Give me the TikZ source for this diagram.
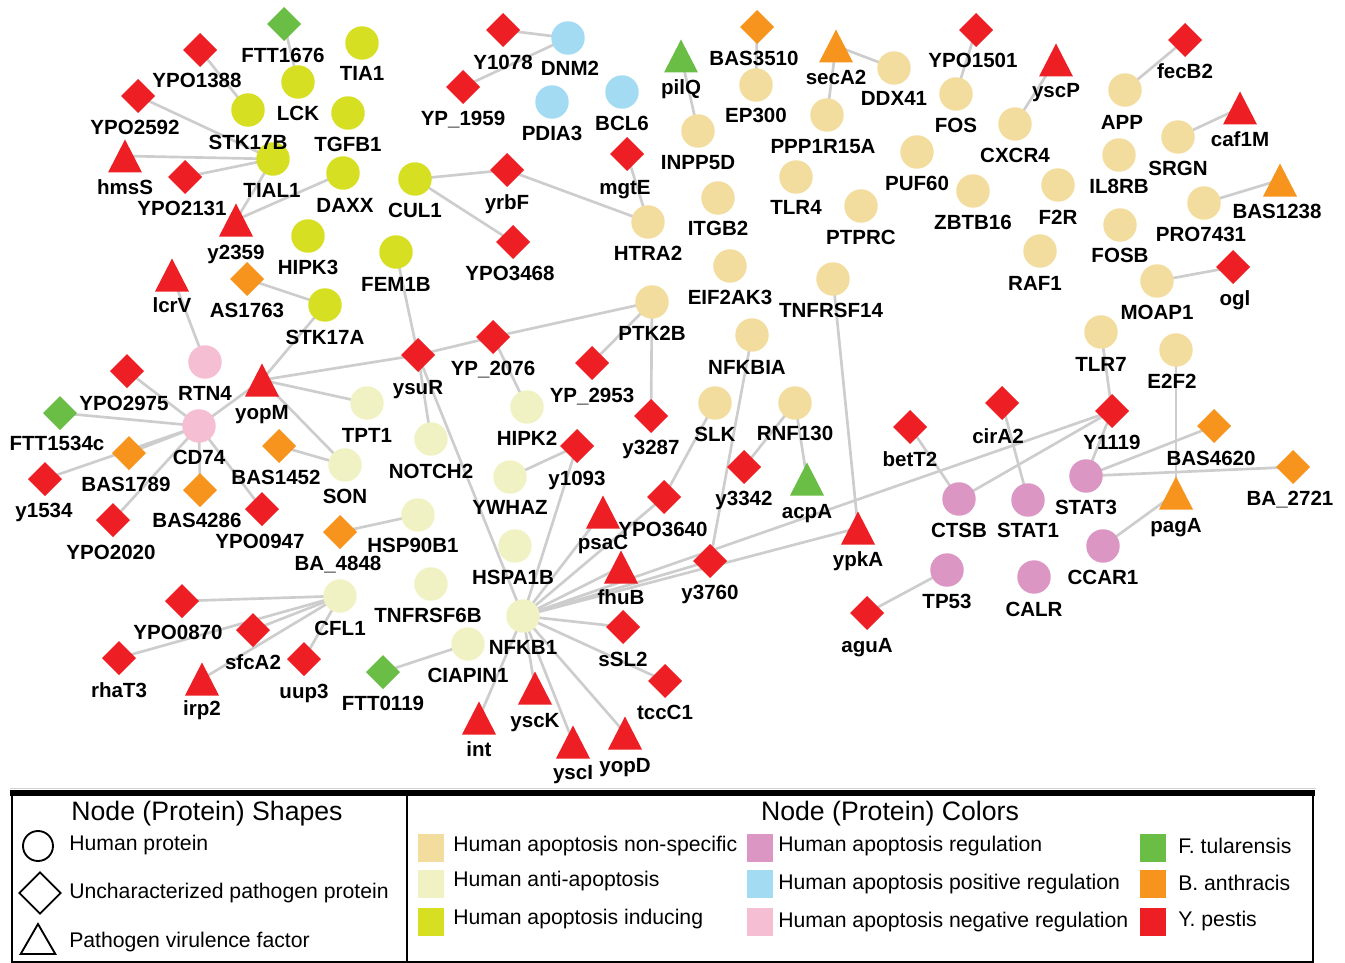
\documentclass[tikz,border=0pt]{standalone}
\usepackage{fontspec}
\setmainfont{Liberation Sans}
\usetikzlibrary{shapes.geometric, backgrounds}
\pgfdeclarelayer{labels}
\pgfsetlayers{background,main,labels}
\definecolor{apoNonspec}{RGB}{242,220,158}
\definecolor{apoAnti}{RGB}{240,242,196}
\definecolor{apoInduce}{RGB}{215,223,35}
\definecolor{apoReg}{RGB}{220,150,196}
\definecolor{apoPos}{RGB}{163,219,242}
\definecolor{apoNeg}{RGB}{246,190,210}
\definecolor{ftul}{RGB}{106,189,69}
\definecolor{banth}{RGB}{247,148,29}
\definecolor{ypes}{RGB}{237,30,36}
\definecolor{linkGray}{RGB}{205,205,205}
\tikzset{
  prot/.style={inner sep=0pt, outer sep=0pt},
  hum/.style={prot, circle, minimum size=25.1pt},
  unch/.style={prot, diamond, minimum size=25.5pt},
  vir/.style={prot, rectangle, minimum width=25.5pt, minimum height=24.75pt,
    path picture={\fill[#1] (path picture bounding box.south west) --
      (path picture bounding box.south east) -- (path picture bounding box.north) -- cycle;}},
  lbl/.style={inner sep=0pt, font=\fontsize{15.4}{18}\selectfont\bfseries, text height=11pt, text depth=0pt},
  link/.style={draw=linkGray, line width=2pt},
  legTitle/.style={inner sep=0pt, font=\fontsize{20}{24}\selectfont},
  legText/.style={inner sep=0pt, anchor=west, font=\fontsize{15.9}{19}\selectfont},
  swatch/.style={inner sep=0pt, minimum width=19.5pt, minimum height=20.5pt},
}
\begin{document}
\begin{tikzpicture}[x=0.75pt, y=-0.75pt]
  \useasboundingbox (0,0) rectangle (1345,963);

  % human proteins
  \foreach \n/\x/\y/\lx/\ly in {LCK/298/82/298/113, STK17B/248/110/248/142, TIA1/362/43/362/73,
      TGFB1/348/113/348/144, TIAL1/273/159/272/190, DAXX/343/173/345/205, HIPK3/308/236/308/267,
      CUL1/415/179/415/210, FEM1B/396/252/396/284, STK17A/325/305/325/337}
    {\node[hum, fill=apoInduce] (\n) at (\x,\y) {};
     \begin{pgfonlayer}{labels}\node[lbl] (\n-t) at (\lx,\ly) {\n};\end{pgfonlayer}}
  \foreach \n/\x/\y/\lx/\ly in {DNM2/568/38/570/68, PDIA3/552/102/552/133, BCL6/622/92/622/123}
    {\node[hum, fill=apoPos] (\n) at (\x,\y) {};
     \begin{pgfonlayer}{labels}\node[lbl] (\n-t) at (\lx,\ly) {\n};\end{pgfonlayer}}
  \foreach \n/\x/\y/\lx/\ly in {INPP5D/698/131/698/162, EP300/756/85/756/115, DDX41/894/68/894/98,
      PPP1R15A/827/115/823/146, FOS/956/94/956/125, CXCR4/1015/124/1015/155, APP/1125/90/1122/122,
      SRGN/1178/137/1178/168, IL8RB/1119/155/1119/186, F2R/1058/185/1058/217, PRO7431/1204/203/1201/234,
      FOSB/1120/225/1120/255, RAF1/1040/251/1035/283, MOAP1/1157/281/1157/312, TLR7/1101/332/1101/364,
      E2F2/1176/350/1172/381, PUF60/917/152/917/183, ZBTB16/973/191/973/222, TLR4/796/177/796/207,
      PTPRC/861/206/861/237, ITGB2/718/198/718/228, HTRA2/648/222/648/253, EIF2AK3/730/266/730/297,
      TNFRSF14/833/279/831/310, PTK2B/652/302/652/333, NFKBIA/752/335/747/367, SLK/715/403/715/434,
      RNF130/795/403/795/433}
    {\node[hum, fill=apoNonspec] (\n) at (\x,\y) {};
     \begin{pgfonlayer}{labels}\node[lbl] (\n-t) at (\lx,\ly) {\n};\end{pgfonlayer}}
  \foreach \n/\x/\y/\lx/\ly in {TPT1/367/403/367/435, NOTCH2/431/439/431/471, HIPK2/527/407/527/438,
      SON/345/465/345/496, YWHAZ/510/477/510/507, HSP90B1/418/515/413/545, HSPA1B/515/546/513/577,
      TNFRSF6B/431/584/428/615, CFL1/340/596/340/628, CIAPIN1/468/644/468/675, NFKB1/523/616/523/647}
    {\node[hum, fill=apoAnti] (\n) at (\x,\y) {};
     \begin{pgfonlayer}{labels}\node[lbl] (\n-t) at (\lx,\ly) {\n};\end{pgfonlayer}}
  \foreach \n/\x/\y/\lx/\ly in {RTN4/205/362/205/393, CD74/199/426/199/457}
    {\node[hum, fill=apoNeg] (\n) at (\x,\y) {};
     \begin{pgfonlayer}{labels}\node[lbl] (\n-t) at (\lx,\ly) {\n};\end{pgfonlayer}}
  \foreach \n/\x/\y/\lx/\ly in {CTSB/959/499/959/530, STAT1/1028/500/1028/530, STAT3/1086/476/1086/507,
      CCAR1/1103/546/1103/577, CALR/1034/577/1034/609, TP53/947/570/947/601}
    {\node[hum, fill=apoReg] (\n) at (\x,\y) {};
     \begin{pgfonlayer}{labels}\node[lbl] (\n-t) at (\lx,\ly) {\n};\end{pgfonlayer}}

  % uncharacterized pathogen proteins
  \foreach \n/\x/\y/\lx/\ly/\t in {YPO1388/200/50/197/80/YPO1388, YPO2592/138/96/135/127/YPO2592,
      YPO2131/185/177/182/208/YPO2131, Y1078/503/30/503/62/Y1078, YP1959/463/87/463/118/YP\_1959,
      yrbF/507/170/507/202/yrbF, mgtE/627/154/625/187/mgtE, YPO3468/513/242/510/273/YPO3468,
      YPO1501/976/30/973/60/YPO1501, fecB2/1185/40/1185/71/fecB2, ogl/1233/267/1235/298/ogl,
      YP2076/493/337/493/368/YP\_2076, YP2953/592/363/592/395/YP\_2953, ysuR/418/355/418/387/ysuR,
      YPO2975/127/371/124/403/YPO2975, y1534/45/479/44/510/y1534, YPO2020/113/520/111/552/YPO2020,
      YPO0947/262/509/260/541/YPO0947, y3287/651/416/651/447/y3287, y1093/577/446/577/478/y1093,
      y3342/744/467/744/498/y3342, YPO3640/664/497/663/529/YPO3640, y3760/710/561/710/592/y3760,
      betT2/910/427/910/459/betT2, cirA2/1002/403/998/436/cirA2, Y1119/1112/411/1112/442/Y1119,
      aguA/867/613/867/645/aguA, YPO0870/182/601/178/632/YPO0870, sfcA2/253/630/253/662/sfcA2,
      rhaT3/119/658/119/690/rhaT3, uup3/304/659/304/691/uup3, sSL2/623/627/623/659/sSL2,
      tccC1/665/681/665/712/tccC1}
    {\node[unch, fill=ypes] (\n) at (\x,\y) {};
     \begin{pgfonlayer}{labels}\node[lbl] (\n-t) at (\lx,\ly) {\t};\end{pgfonlayer}}
  \foreach \n/\x/\y/\lx/\ly/\t in {BAS3510/757/27/754/58/BAS3510, AS1763/247/279/247/310/AS1763,
      BAS1789/129/453/126/484/BAS1789, BAS4286/200/490/197/520/BAS4286, BAS1452/279/446/276/477/BAS1452,
      BA4848/340/532/338/563/BA\_4848, BAS4620/1214/426/1211/458/BAS4620, BA2721/1293/467/1290/498/BA\_2721}
    {\node[unch, fill=banth] (\n) at (\x,\y) {};
     \begin{pgfonlayer}{labels}\node[lbl] (\n-t) at (\lx,\ly) {\t};\end{pgfonlayer}}
  \foreach \n/\x/\y/\lx/\ly in {FTT1676/284/24/283/55, FTT1534c/60/413/57/443, FTT0119/383/672/383/703}
    {\node[unch, fill=ftul] (\n) at (\x,\y) {};
     \begin{pgfonlayer}{labels}\node[lbl] (\n-t) at (\lx,\ly) {\n};\end{pgfonlayer}}

  % pathogen virulence factors
  \foreach \n/\x/\y/\lx/\ly in {hmsS/125/156/125/187, y2359/236/220/236/252, lcrV/172/275/172/305,
      yopM/262/380/262/412, yscP/1056/60/1056/90, caf1M/1240/108/1240/139, psaC/603/512/603/542,
      fhuB/621/567/621/597, ypkA/858/528/858/559, irp2/202/679/202/708, int/479/718/479/749,
      yscK/535/688/535/720, yscI/573/742/573/772, yopD/625/733/625/765}
    {\node[vir=ypes] (\n) at (\x,\y) {};
     \begin{pgfonlayer}{labels}\node[lbl] (\n-t) at (\lx,\ly) {\n};\end{pgfonlayer}}
  \foreach \n/\x/\y/\lx/\ly in {secA2/836/46/836/77, BAS1238/1280/180/1277/211, pagA/1176/493/1176/525}
    {\node[vir=banth] (\n) at (\x,\y) {};
     \begin{pgfonlayer}{labels}\node[lbl] (\n-t) at (\lx,\ly) {\n};\end{pgfonlayer}}
  \foreach \n/\x/\y/\lx/\ly in {pilQ/681/56/681/87, acpA/807/479/807/511}
    {\node[vir=ftul] (\n) at (\x,\y) {};
     \begin{pgfonlayer}{labels}\node[lbl] (\n-t) at (\lx,\ly) {\n};\end{pgfonlayer}}

  % interactions
  \begin{scope}[on background layer]
    \foreach \a/\b in {FTT1676/LCK, YPO1388/STK17B, YPO2592/TIAL1, hmsS/TIAL1, YPO2131/TIAL1,
        y2359/TIAL1, y2359/DAXX, Y1078/DNM2, YP1959/DNM2, CUL1/yrbF, CUL1/YPO3468, yrbF/HTRA2,
        mgtE/HTRA2, pilQ/INPP5D, BAS3510/EP300, secA2/PPP1R15A, secA2/DDX41, YPO1501/FOS,
        yscP/CXCR4, fecB2/APP, caf1M/SRGN, BAS1238/PRO7431, MOAP1/ogl, TLR7/Y1119, E2F2/pagA,
        STAT3/BAS4620, STAT3/BA2721, STAT3/Y1119, pagA/CCAR1, cirA2/STAT1, Y1119/CTSB, Y1119/NFKB1,
        betT2/CTSB, RNF130/y3342, RNF130/acpA, NFKBIA/y3760, SLK/YPO3640, TNFRSF14/ypkA, aguA/TP53,
        lcrV/RTN4, AS1763/STK17A, YPO2975/CD74, FTT1534c/CD74, BAS1789/CD74, y1534/CD74,
        YPO2020/CD74, BAS4286/CD74, YPO0947/CD74, CD74/yopM, yopM/STK17A, yopM/ysuR, ysuR/YP2076,
        YP2076/PTK2B, yopM/SON, yopM/TPT1, BAS1452/SON, FEM1B/ysuR, PTK2B/YP2953, PTK2B/y3287,
        YP2076/HIPK2, ysuR/NOTCH2, ysuR/NFKB1, y1093/YWHAZ, y1093/NFKB1, BA4848/HSP90B1,
        FTT0119/CIAPIN1, NFKB1/int, NFKB1/yscK, NFKB1/yscI, NFKB1/yopD, NFKB1/sSL2, NFKB1/tccC1,
        NFKB1/fhuB, NFKB1/y3760, NFKB1/ypkA, NFKB1/YPO3640, NFKB1/psaC, YPO0870/CFL1, rhaT3/CFL1,
        sfcA2/CFL1, irp2/CFL1, uup3/CFL1}
      \draw[link] (\a.center) -- (\b.center);
  \end{scope}

  % legend
  \draw[gray!35, line width=0.75pt] (10,788) -- (1316,788);
  \draw[line width=1.5pt] (12,793) -- (12,963) (1313,793) -- (1313,963) (407,793) -- (407,963)
    (12,962) -- (1313,962);
  \draw[line width=4pt] (10,793) -- (1315,793);
  \node[legTitle] (shapes-t) at (207,814) {Node (Protein) Shapes};
  \node[legTitle] (colors-t) at (890,814) {Node (Protein) Colors};
  \node[prot, circle, draw, line width=1.4pt, minimum size=22.5pt] (lg-hum) at (38,846) {};
  \node[prot, diamond, draw, line width=1.4pt, minimum size=31pt] (lg-unch) at (40,893) {};
  \node[prot, regular polygon, regular polygon sides=3, draw, line width=1.4pt, minimum size=30pt] (lg-vir) at (38,944) {};
  \node[legText] (lg-hum-t) at (69,845) {Human protein};
  \node[legText] (lg-unch-t) at (69,893) {Uncharacterized pathogen protein};
  \node[legText] (lg-vir-t) at (69,942) {Pathogen virulence factor};
  \foreach \c/\x/\y/\tx/\ty/\t [count=\i] in {apoNonspec/431/848/453/846/Human apoptosis non-specific,
      apoAnti/431/884/453/881/Human anti-apoptosis, apoInduce/431/922/453/919/Human apoptosis inducing,
      apoReg/760/848/778/846/Human apoptosis regulation, apoPos/760/884/778/884/Human apoptosis positive regulation,
      apoNeg/760/922/778/922/Human apoptosis negative regulation, ftul/1153/848/1178/846/F. tularensis,
      banth/1153/884/1178/883/B. anthracis, ypes/1153/922/1178/921/Y. pestis}
    {\node[swatch, fill=\c] (sw\i) at (\x,\y) {};
     \node[legText] (sw\i-t) at (\tx,\ty) {\t};}
\end{tikzpicture}
\end{document}
